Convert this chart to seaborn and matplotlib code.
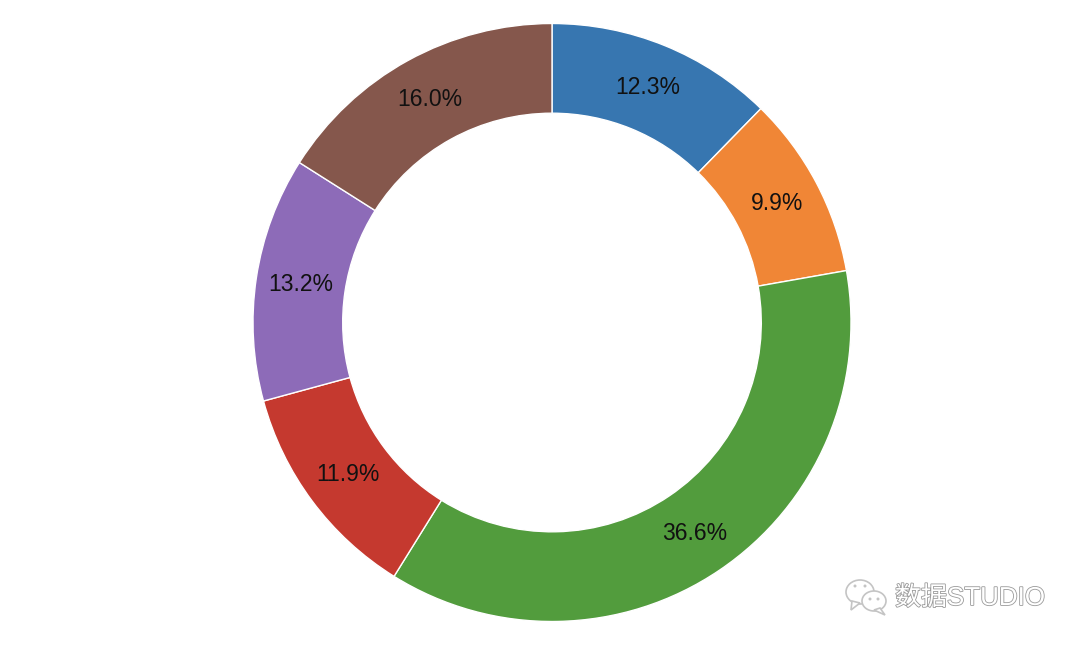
import matplotlib
matplotlib.use("Agg")
import matplotlib.pyplot as plt
import matplotlib.patheffects as pe
import seaborn as sns
from matplotlib.patches import Ellipse, Polygon

sizes = [12.3, 9.9, 36.6, 11.9, 13.2, 16.0]
colors = ["#3776b0", "#f08636", "#529c3d", "#c5392f", "#8d6bb8", "#85574c"]
watermark = "数据STUDIO"

sns.set_theme(style="white")
plt.rcParams["font.family"] = ["Liberation Sans", "Noto Sans CJK SC", "DejaVu Sans"]

fig = plt.figure(figsize=(10.8, 6.46), dpi=100)
ax = fig.add_axes([0, 0, 1, 1])
wedges, texts, autotexts = ax.pie(
    sizes,
    colors=colors,
    startangle=90,
    counterclock=False,
    autopct="%1.1f%%",
    pctdistance=0.85,
    radius=1,
    wedgeprops={"width": 0.3, "edgecolor": "white", "linewidth": 1.0},
    textprops={"fontsize": 16.5, "color": "#111111"},
)
ax.set_aspect("equal")
# donut centre at about (552, 322.5), radius about 299 px
ax.set_xlim(-552 / 299, (1080 - 552) / 299)
ax.set_ylim(-(646 - 322.5) / 299, 322.5 / 299)
ax.axis("off")

# wechat style logo, in pixels measured from the top left
H = 646
logo = {"fc": "white", "ec": "#c4c4c4", "lw": 1.2, "transform": None, "clip_on": False}
fig.add_artist(Ellipse((860, H - 592), 28, 24, **logo))
fig.add_artist(Polygon([(852, H - 601), (851, H - 610), (860, H - 603)], closed=True, **logo))
fig.add_artist(Ellipse((874, H - 601), 24, 20, **logo))
fig.add_artist(Polygon([(880, H - 608), (885, H - 615), (874, H - 610)], closed=True, **logo))
for x, y in [(855, 586), (865, 586), (870, 599), (878, 599)]:
    fig.add_artist(Ellipse((x, H - y), 3, 3, fc="#c4c4c4", ec="none", transform=None))

t = fig.text(895 / 1080, 1 - 598 / 646, watermark, fontsize=18.7, color="white",
             va="center", ha="left")
t.set_path_effects([pe.withStroke(linewidth=1.2, foreground="#9a9a9a")])

fig.savefig("out.png", dpi=100)
